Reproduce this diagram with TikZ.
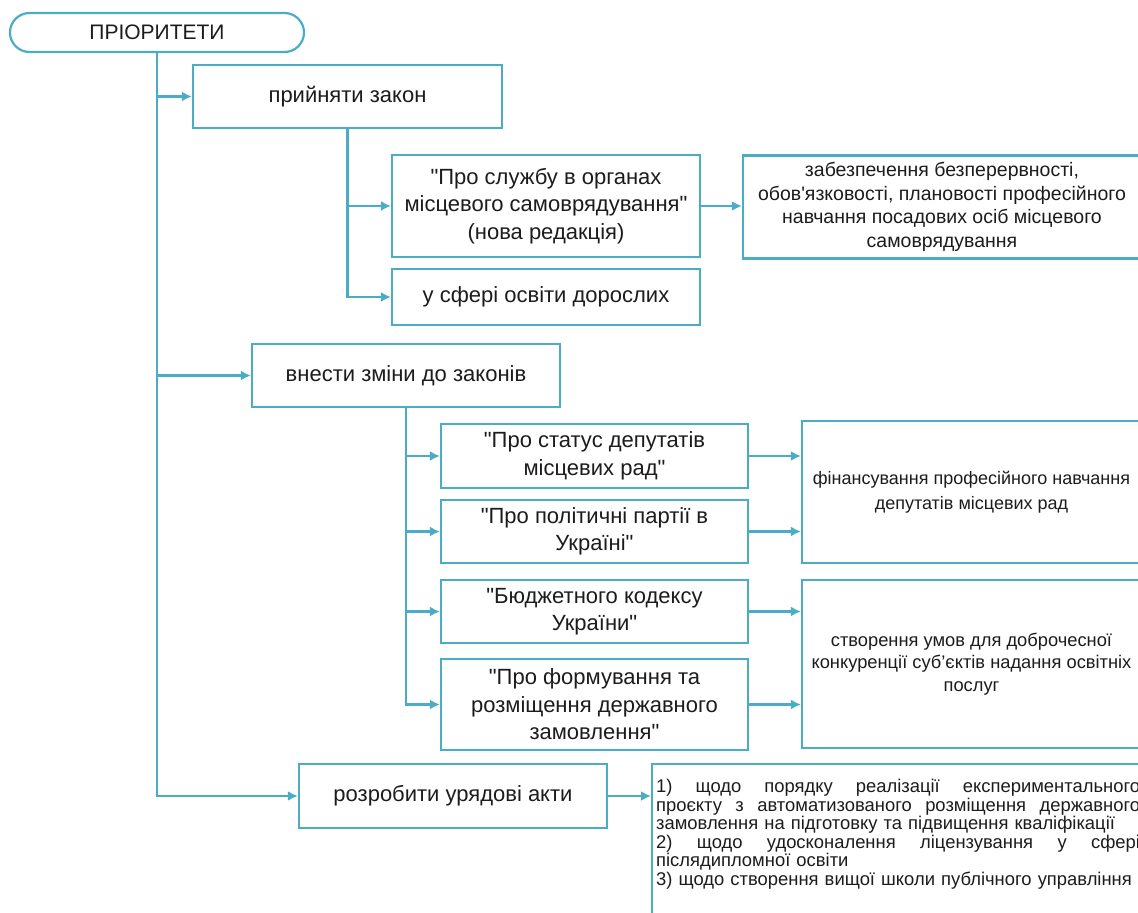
\documentclass[tikz,border=0pt]{standalone}
\usepackage{fontspec}
\setmainfont{Liberation Sans}[Ligatures=TeXOff]
\usetikzlibrary{arrows.meta}
\definecolor{lineteal}{RGB}{75,172,198}
\definecolor{txt}{RGB}{28,28,28}
\tikzset{
  box/.style={draw=lineteal, line width=2.2pt, fill=white, text=txt, align=center, inner sep=2pt,
    font=\fontsize{22}{27.5}\selectfont},
  smallbox/.style={box, font=\fontsize{18}{23.3}\selectfont},
  conn/.style={draw=lineteal, line width=2.2pt},
  arr/.style={conn, -{Latex[length=10pt,width=10pt]}},
}
\newcommand{\jline}[1]{\makebox[484pt]{#1}}
\begin{document}
\begin{tikzpicture}[x=1pt,y=-1pt]
\useasboundingbox (0,0) rectangle (1138,913);
\clip (0,0) rectangle (1138,913);
% nodes
\node[box, rounded corners=19.5pt, minimum width=294pt, minimum height=39pt, font=\fontsize{21}{25}\selectfont] (pri) at (157,32.5) {ПРІОРИТЕТИ};
\node[box, minimum width=309pt, minimum height=63pt] (zakon) at (347.5,96.5) {прийняти закон};
\node[box, minimum width=308pt, minimum height=102pt] (sluzhba) at (546,206) {"Про службу в органах\\місцевого самоврядування"\\(нова редакція)};
\node[box, minimum width=308pt, minimum height=56pt] (dorosl) at (546,297) {у сфері освіти дорослих};
\node[smallbox, minimum width=398pt, minimum height=103pt, font=\fontsize{19.5}{23.5}\selectfont] (zabezp) at (942,207) {забезпечення безперервності,\\обов'язковості, плановості професійного\\навчання посадових осіб місцевого\\самоврядування};
\node[box, minimum width=308pt, minimum height=63pt] (vnesty) at (406,375.5) {внести зміни до законів};
\node[box, minimum width=307pt, minimum height=64pt] (law1) at (594.5,456) {"Про статус депутатів\\місцевих рад"};
\node[box, minimum width=307pt, minimum height=63pt] (law2) at (594.5,531.5) {"Про політичні партії в\\Україні"};
\node[box, minimum width=307pt, minimum height=63pt] (law3) at (594.5,611.5) {"Бюджетного кодексу\\України"};
\node[box, minimum width=307pt, minimum height=91pt] (law4) at (594.5,704.5) {"Про формування та\\розміщення державного\\замовлення"};
\node[smallbox, minimum width=339pt, minimum height=142pt, font=\fontsize{18}{25}\selectfont] (fin) at (971.5,492) {фінансування професійного навчання\\депутатів місцевих рад};
\node[smallbox, minimum width=339pt, minimum height=168pt, font=\fontsize{18.3}{22.5}\selectfont] (stvor) at (971.5,664) {створення умов для доброчесної\\конкуренції суб’єктів надання освітніх\\послуг};
\node[box, minimum width=308pt, minimum height=64pt] (rozrob) at (453,796) {розробити урядові акти};
\node[box, anchor=north west, align=left, text width=484pt,
  inner xsep=4pt, inner ysep=15pt, font=\fontsize{18.4}{18.6}\selectfont] (acts) at (651,763) {%
\jline{1)\hfill щодо\hfill порядку\hfill реалізації\hfill експериментального}\\
\jline{проєкту\hfill з\hfill автоматизованого\hfill розміщення\hfill державного}\\
замовлення на підготовку та підвищення кваліфікації\\
\jline{2)\hfill щодо\hfill удосконалення\hfill ліцензування\hfill у\hfill сфері}\\
післядипломної освіти\\
3) щодо створення вищої школи публічного управління\rule[-60pt]{0pt}{0pt}};
% connectors
\draw[arr] (pri.south) |- (rozrob.west);
\draw[arr] (pri.south |- zakon.west) -- (zakon.west);
\draw[arr] (pri.south |- vnesty.west) -- (vnesty.west);
\draw[arr] (zakon.south) |- (dorosl.west);
\draw[arr] (zakon.south |- sluzhba.west) -- (sluzhba.west);
\draw[arr] (sluzhba.east) -- (sluzhba.east -| zabezp.west);
\draw[arr] (vnesty.south) |- (law4.west);
\draw[arr] (vnesty.south |- law1.west) -- (law1.west);
\draw[arr] (vnesty.south |- law2.west) -- (law2.west);
\draw[arr] (vnesty.south |- law3.west) -- (law3.west);
\draw[arr] (law1.east) -- (law1.east -| fin.west);
\draw[arr] (law2.east) -- (law2.east -| fin.west);
\draw[arr] (law3.east) -- (law3.east -| stvor.west);
\draw[arr] (law4.east) -- (law4.east -| stvor.west);
\draw[arr] (rozrob.east) -- (rozrob.east -| acts.west);
\end{tikzpicture}
\end{document}
